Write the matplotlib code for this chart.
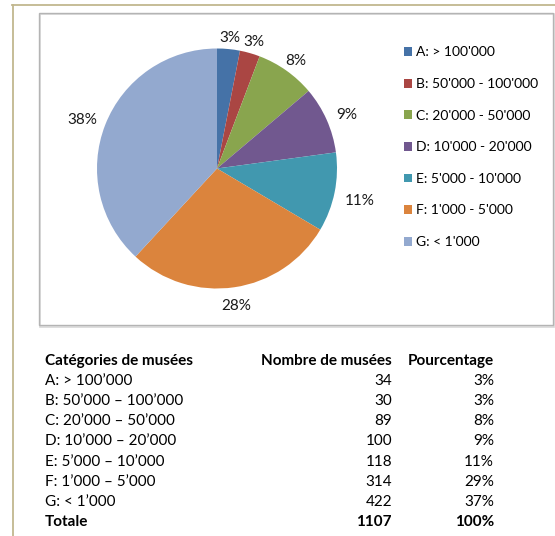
import matplotlib
matplotlib.use("Agg")
import matplotlib.pyplot as plt
import numpy as np
from matplotlib.patches import Rectangle, Patch
from matplotlib.lines import Line2D

plt.rcParams['font.family'] = ['Lato', 'DejaVu Sans']

# ---- data ----
legend_labels = ["A: > 100'000", "B: 50'000 - 100'000", "C: 20'000 - 50'000",
                 "D: 10'000 - 20'000", "E: 5'000 - 10'000", "F: 1'000 - 5'000",
                 "G: < 1'000"]
counts = [34, 30, 89, 100, 118, 314, 422]
colors = ["#4572A7", "#AA4643", "#89A54E", "#71588F", "#4198AF", "#DB843D", "#93A9CF"]

table_header = ["Catégories de musées", "Nombre de musées", "Pourcentage"]
table_cats = ["A: > 100’000", "B: 50’000 – 100’000", "C: 20’000 – 50’000",
              "D: 10’000 – 20’000", "E: 5’000 – 10’000", "F: 1’000 – 5’000",
              "G: < 1’000"]
table_counts = [34, 30, 89, 100, 118, 314, 422]
table_pcts = ["3%", "3%", "8%", "9%", "11%", "29%", "37%"]
total_label = "Totale"
total_count = 1107
total_pct = "100%"

W, H = 555, 536
fig = plt.figure(figsize=(W / 100, H / 100), dpi=100)
fig.patch.set_facecolor("white")

def fx(x):
    return x / W

def fy(y):
    return 1 - y / H

# khaki frame lines
khaki = "#c2b78f"
fig.add_artist(Line2D([fx(12), fx(555)], [fy(4.5), fy(4.5)], color=khaki, lw=1.3))
fig.add_artist(Line2D([fx(12.5), fx(12.5)], [fy(4.5), fy(536)], color=khaki, lw=1.3))

# gray chart box (with light shadow)
fig.add_artist(Rectangle((fx(40), fy(326.5)), fx(553.5) - fx(40), fy(14) - fy(326.5),
                         transform=fig.transFigure, fill=False, ec="#d8d8d8", lw=1.2))
fig.add_artist(Rectangle((fx(38.8), fy(325.2)), fx(552.5) - fx(38.8), fy(12.8) - fy(325.2),
                         transform=fig.transFigure, fill=False, ec="#b4b4b4", lw=1.0))

# pie
cx, cy, R = 217, 168.5, 120
ax = fig.add_axes([fx(cx - R), fy(cy + R), (2 * R) / W, (2 * R) / H])
wedges, texts, autotexts = ax.pie(counts, colors=colors, startangle=90, counterclock=False,
                                  autopct='%.0f%%', pctdistance=1.15,
                                  textprops=dict(fontsize=11, color="#1a1a1a"),
                                  wedgeprops=dict(linewidth=0))
ax.set_xlim(-1, 1)
ax.set_ylim(-1, 1)
ax.set_aspect('equal')
ax.axis('off')

# place percentage labels just outside the pie, based on their text extents
fig.canvas.draw()
renderer = fig.canvas.get_renderer()
gap = 10.0  # pixels
drop = 4.0  # pixels: visual centring of digits
for w, t in zip(wedges, autotexts):
    theta = np.deg2rad((w.theta1 + w.theta2) / 2)
    bb = t.get_window_extent(renderer)
    hw, hh = bb.width / 2, bb.height / 2 * 0.75
    c, s = abs(np.cos(theta)), abs(np.sin(theta))
    d = min(hw / c if c > 1e-6 else 1e9, hh / s if s > 1e-6 else 1e9)
    dist = (R + gap + d) / R
    t.set_position((dist * np.cos(theta), dist * np.sin(theta) - drop / R))
    t.set_ha('center')
    t.set_va('center')

# legend
handles = [Patch(facecolor=c, edgecolor='none') for c in colors]
fig.legend(handles, legend_labels, loc='upper left',
           bbox_to_anchor=(fx(404), fy(46.5)), bbox_transform=fig.transFigure,
           frameon=False, fontsize=10, handlelength=0.6, handleheight=0.6,
           handletextpad=0.3, labelspacing=1.41, borderpad=0, borderaxespad=0)

# table
tfont = dict(fontsize=11, color="black")
x0, x1, x2 = 45, 392, 494
y_head = 361
step = 20.1
fig.text(fx(x0), fy(y_head), table_header[0], ha='left', va='center', fontweight='bold', **tfont)
fig.text(fx(x1), fy(y_head), table_header[1], ha='right', va='center', fontweight='bold', **tfont)
fig.text(fx(x2), fy(y_head), table_header[2], ha='right', va='center', fontweight='bold', **tfont)
for i, (cat, n, p) in enumerate(zip(table_cats, table_counts, table_pcts)):
    y = y_head + step * (i + 1)
    fig.text(fx(x0), fy(y), cat, ha='left', va='center', **tfont)
    fig.text(fx(x1), fy(y), str(n), ha='right', va='center', **tfont)
    fig.text(fx(x2), fy(y), p, ha='right', va='center', **tfont)
y = y_head + step * (len(table_cats) + 1)
fig.text(fx(x0), fy(y), total_label, ha='left', va='center', fontweight='bold', **tfont)
fig.text(fx(x1), fy(y), str(total_count), ha='right', va='center', fontweight='bold', **tfont)
fig.text(fx(x2), fy(y), total_pct, ha='right', va='center', fontweight='bold', **tfont)

fig.savefig("out.png", dpi=100, facecolor="white")
